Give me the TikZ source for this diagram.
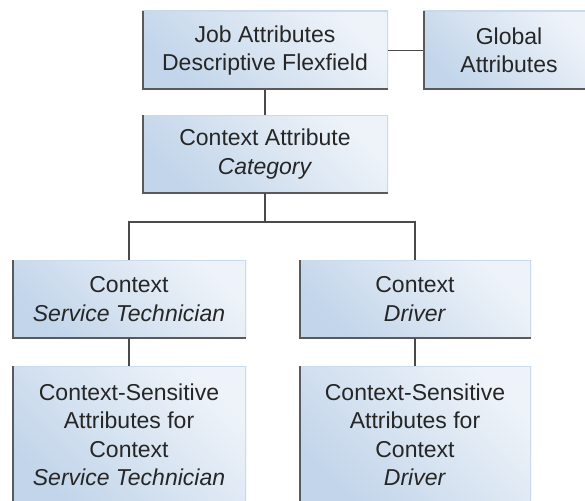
\documentclass[tikz,border=0pt]{standalone}
\usepackage{fontspec}
\setmainfont{Liberation Sans}
\usepackage{xcolor}
\usepackage{tikz}
\usetikzlibrary{positioning}

\definecolor{boxdark}{HTML}{C2D5EA}
\definecolor{boxlight}{HTML}{EEF3F9}
\definecolor{edgedark}{HTML}{5A5A5A}
\definecolor{edgelight}{HTML}{C9DAEC}
\definecolor{linkgray}{HTML}{4A4A4A}

\begin{document}
\begin{tikzpicture}[x=1pt, y=1pt, node distance=25pt]
        % Define a style for the nodes
        \tikzstyle{flexbox} = [rectangle, top color=boxlight, bottom color=boxdark, shading angle=-45,
            inner sep=0pt, outer sep=0pt, align=center, minimum height=78pt, text=black!85,
            font=\fontsize{23}{28.5}\selectfont,
            path picture={
                \draw[edgelight, line width=2.5pt] (path picture bounding box.south east) -- (path picture bounding box.north east) -- (path picture bounding box.north west);
                \draw[edgedark, line width=3pt] (path picture bounding box.north west) -- (path picture bounding box.south west) -- (path picture bounding box.south east);
            }]
        \tikzstyle{link} = [draw=linkgray, line width=1.3pt]

        \useasboundingbox (0,0) rectangle (585,-500);

        % Nodes
        \node (job) [flexbox, minimum width=246pt, minimum height=79pt] at (265,-50.5) {Job Attributes\\Descriptive Flexfield};
        \node (global) [flexbox, minimum width=172pt, minimum height=79pt, right=35pt of job] {Global\\Attributes};
        \node (category) [flexbox, minimum width=246pt, below=25pt of job] {Context Attribute\\\textit{Category}};
        \coordinate [below=29pt of category] (split);
        \node (tech) [flexbox, minimum width=234pt, below=67pt of category, xshift=-136pt] {Context\\\textit{Service Technician}};
        \node (driver) [flexbox, minimum width=232pt, right=53pt of tech] {Context\\\textit{Driver}};
        \node (techattr) [flexbox, minimum width=234pt, minimum height=138pt, below=28pt of tech] {Context-Sensitive\\Attributes for\\Context\\\textit{Service Technician}};
        \node (driverattr) [flexbox, minimum width=232pt, minimum height=138pt, below=28pt of driver] {Context-Sensitive\\Attributes for\\Context\\\textit{Driver}};

        % Edges
        \draw [link] (job) -- (global);
        \draw [link] (job) -- (category);
        \draw [link] (category) -- (split);
        \draw [link] (split) -| (tech);
        \draw [link] (split) -| (driver);
        \draw [link] (tech) -- (techattr);
        \draw [link] (driver) -- (driverattr);
    \end{tikzpicture}
\end{document}
